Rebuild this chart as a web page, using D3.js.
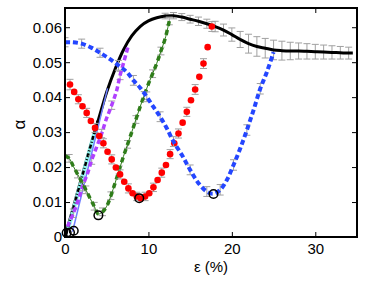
<!DOCTYPE html>
<html><head><meta charset="utf-8">
<script src="https://cdn.jsdelivr.net/npm/d3@7"></script>
<style>body{margin:0;background:#fff;}svg{display:block;}text{font-family:"Liberation Sans",Arial,sans-serif;}</style>
</head><body><svg id="c" width="374" height="281"></svg>
<script>
// ---- data ----
const xTicks = [0, 10, 20, 30];
const yTicks = [0, 0.01, 0.02, 0.03, 0.04, 0.05, 0.06];
const yTickLabels = ["0", "0.01", "0.02", "0.03", "0.04", "0.05", "0.06"];

const blackX = [0,1,2,3,4,5,6,7,8,9,10,11,12,13,14,15,16,17,18,19,20,21,22,23,24,25,26,27,28,29,30,31,32,33,34,34.5];
const blackY = [0,0.0085,0.017,0.0255,0.0335,0.0415,0.048,0.0535,0.0575,0.0602,0.0618,0.0627,0.0632,0.0633,0.0629,0.0623,0.0617,0.061,0.0602,0.0592,0.0579,0.0565,0.0553,0.0545,0.054,0.0535,0.0533,0.0532,0.0532,0.0531,0.053,0.0529,0.0528,0.0527,0.0526,0.0526];
const blackErr = [0,0,0,0,0,0,0,0,0,0,0,0,0.0008,0.0009,0.001,0.0011,0.0012,0.0013,0.0015,0.0017,0.0019,0.0023,0.0027,0.0028,0.0028,0.0028,0.0027,0.0025,0.0023,0.0022,0.0021,0.002,0.0019,0.0018,0.0017,0];

const redX = [0.6,1.1,1.6,2.1,2.6,3.1,3.6,4.1,4.6,5.1,5.6,6.1,6.6,7.1,7.6,8.1,8.6,9.1,9.6,10.1,10.6,11.1,11.6,12.1,12.6,13.1,13.6,14.1,14.6,15.1,15.6,16.1,16.6,17.1,17.6];
const redY = [0.0436,0.0415,0.0394,0.0374,0.0355,0.0332,0.0312,0.0289,0.0268,0.0244,0.0222,0.0199,0.0179,0.0158,0.0139,0.0125,0.0116,0.011,0.0116,0.0125,0.0142,0.0163,0.0184,0.0206,0.0237,0.0268,0.0296,0.0327,0.0358,0.0391,0.0422,0.0458,0.0496,0.0543,0.0602];
const redErr = [0.0015,0,0.0013,0,0.0013,0,0.0013,0,0.0013,0,0.0013,0,0.0013,0,0.0013,0,0.0012,0,0.0012,0,0.0012,0,0.0013,0,0.0013,0,0.0013,0,0.0013,0,0.0014,0,0.0014,0,0.0014];

const blueX = [0,0.8,2.0,3.2,4.2,5.3,6.4,7.4,8.2,9.0,9.8,10.6,11.4,12.2,13.0,14.0,15.0,16.0,17.0,17.8,18.6,19.4,20.2,21.0,21.8,22.6,23.4,24.2,25.0];
const blueY = [0.0557,0.0557,0.0553,0.0541,0.0527,0.051,0.0491,0.0472,0.0448,0.0427,0.0401,0.0372,0.0344,0.0311,0.0273,0.0235,0.0192,0.0154,0.013,0.0124,0.0135,0.0163,0.0206,0.0253,0.0306,0.0363,0.0424,0.0472,0.0529];
const blueErr = [0.0013,0,0.0013,0,0.0013,0,0.0014,0,0.0014,0,0.0014,0,0.0014,0,0.0014,0,0.0014,0,0.0014,0,0.0015,0,0.0015,0,0.0015,0,0.0015,0,0];

const greenX = [0,0.5,1,1.5,2,2.5,3,3.5,4,4.5,5,5.5,6,6.5,7,7.5,8,8.5,9,9.5,10,10.5,11,11.5,12,12.5];
const greenY = [0.0232,0.0225,0.0202,0.018,0.0158,0.0135,0.0111,0.0088,0.0066,0.0072,0.0088,0.0118,0.0154,0.0192,0.023,0.0265,0.03,0.0336,0.0372,0.0405,0.0438,0.0467,0.0497,0.0532,0.0567,0.0618];
const greenErr = [0,0.0011,0,0.0011,0,0.0011,0,0.0011,0,0.0011,0,0.0011,0,0.0011,0,0.0011,0,0.0011,0,0.0011,0,0.0011,0,0.0011,0,0.0011];

const purpleX = [0.3,1.0,1.6,2.1,2.7,3.2,3.8,4.4,4.9,5.6,6.2,6.6,7.1,7.6];
const purpleY = [0.003,0.0068,0.0106,0.0144,0.0182,0.022,0.0258,0.0296,0.0334,0.0377,0.042,0.0462,0.0505,0.0548];
const purpleErr = [0,0.0012,0,0.0012,0,0.0012,0,0.0012,0,0.0012,0,0.0012,0,0];

const cyanX = [0.4, 3.5];
const cyanY = [0.0025, 0.0295];
const dashBlackX = [0.1, 3.9];
const dashBlackY = [0.0005, 0.0332];
const thinBlueX = [0.9, 5.1];
const thinBlueY = [0.0015, 0.0425];

const circleX = [0.2, 0.6, 1.05, 4.0, 8.9, 17.8];
const circleY = [0.0012, 0.0013, 0.0018, 0.0062, 0.0111, 0.0123];

// ---- chart ----
const svg = d3.select("#c");
const L = 65, R = 357, T = 8, B = 237;
const x = d3.scaleLinear().domain([0, 35]).range([L, R]);
const y = d3.scaleLinear().domain([0, 0.0655]).range([B, T]);
const pts = (xs, ys) => xs.map((v, i) => [v, ys[i]]);
const line = d3.line().x(d => x(d[0])).y(d => y(d[1]));
const smooth = d3.line().x(d => x(d[0])).y(d => y(d[1])).curve(d3.curveCatmullRom);

const plot = svg.append("g");
plot.append("defs").append("clipPath").attr("id", "clip")
  .append("rect").attr("x", L).attr("y", T).attr("width", R - L).attr("height", B - T);
const g = plot.append("g").attr("clip-path", "url(#clip)");

function errBars(xs, ys, es) {
  const d = xs.map((v, i) => [v, ys[i], es[i]]).filter(e => e[2] > 0);
  const eg = g.append("g").attr("stroke", "#a0a0a0").attr("stroke-width", 1).attr("fill", "none");
  eg.selectAll("path").data(d).join("path")
    .attr("d", e => {
      const cx = x(e[0]), y1 = y(e[1] + e[2]), y2 = y(e[1] - e[2]);
      return `M${cx},${y1}V${y2}M${cx - 3.5},${y1}H${cx + 3.5}M${cx - 3.5},${y2}H${cx + 3.5}`;
    });
}

// black main curve
errBars(blackX, blackY, blackErr);
g.append("path").attr("d", smooth(pts(blackX, blackY)))
  .attr("fill", "none").attr("stroke", "#000").attr("stroke-width", 3);

// cyan + thin blue + black dash-dot near origin
g.append("path").attr("d", line(pts(cyanX, cyanY)))
  .attr("fill", "none").attr("stroke", "#8ff5ee").attr("stroke-width", 4);
g.append("path").attr("d", line(pts(thinBlueX, thinBlueY)))
  .attr("fill", "none").attr("stroke", "#6f80ff").attr("stroke-width", 1.5);
g.append("path").attr("d", line(pts(dashBlackX, dashBlackY)))
  .attr("fill", "none").attr("stroke", "#000").attr("stroke-width", 2.5)
  .attr("stroke-dasharray", "4,2,1,2");

// purple
errBars(purpleX, purpleY, purpleErr);
g.append("path").attr("d", smooth(pts(purpleX, purpleY)))
  .attr("fill", "none").attr("stroke", "#b040ff").attr("stroke-width", 3.5)
  .attr("stroke-dasharray", "5,3");

// green
errBars(greenX, greenY, greenErr);
g.append("path").attr("d", smooth(pts(greenX, greenY)))
  .attr("fill", "none").attr("stroke", "#2f7d1a").attr("stroke-width", 1);
g.append("path").attr("d", smooth(pts(greenX, greenY)))
  .attr("fill", "none").attr("stroke", "#2f7d1a").attr("stroke-width", 3.5)
  .attr("stroke-dasharray", "5,4");

// red dots
errBars(redX, redY, redErr);
g.append("g").selectAll("circle").data(pts(redX, redY)).join("circle")
  .attr("cx", d => x(d[0])).attr("cy", d => y(d[1])).attr("r", 3.3).attr("fill", "#ff0000");

// blue dashed
errBars(blueX, blueY, blueErr);
g.append("path").attr("d", smooth(pts(blueX, blueY)))
  .attr("fill", "none").attr("stroke", "#2446ff").attr("stroke-width", 4)
  .attr("stroke-dasharray", "5,3");

// open circles
plot.append("g").selectAll("circle").data(pts(circleX, circleY)).join("circle")
  .attr("cx", d => x(d[0])).attr("cy", d => y(d[1])).attr("r", 4.3)
  .attr("fill", "none").attr("stroke", "#000").attr("stroke-width", 1.5);

// axes
const tl = 5;
const ax = svg.append("g");
ax.append("g").attr("transform", `translate(0,${B})`)
  .call(d3.axisBottom(x).tickValues(xTicks).tickSize(-tl).tickFormat(d3.format("d")).tickPadding(6));
ax.append("g").attr("transform", `translate(0,${T})`)
  .call(d3.axisTop(x).tickValues(xTicks).tickSize(-tl).tickFormat(""));
ax.append("g").attr("transform", `translate(${L},0)`)
  .call(d3.axisLeft(y).tickValues(yTicks).tickSize(-tl).tickFormat((d, i) => yTickLabels[i]).tickPadding(3));
ax.append("g").attr("transform", `translate(${R},0)`)
  .call(d3.axisRight(y).tickValues(yTicks).tickSize(-tl).tickFormat(""));
ax.selectAll(".domain").remove();
ax.selectAll(".tick line").attr("stroke", "#000").attr("stroke-width", 1);
ax.selectAll("text").attr("font-size", 15).attr("fill", "#000")
  .style("font-family", "'Liberation Sans', Arial, sans-serif");
svg.append("rect").attr("x", L).attr("y", T).attr("width", R - L).attr("height", B - T)
  .attr("fill", "none").attr("stroke", "#000").attr("stroke-width", 2);

svg.append("text").attr("x", x(17.5)).attr("y", 272).attr("text-anchor", "middle")
  .attr("font-size", 15).text("ε (%)");
svg.append("text").attr("transform", `translate(25,${(T + B) / 2 + 2}) rotate(-90)`)
  .attr("text-anchor", "middle").attr("font-size", 17).text("α");
</script></body></html>
